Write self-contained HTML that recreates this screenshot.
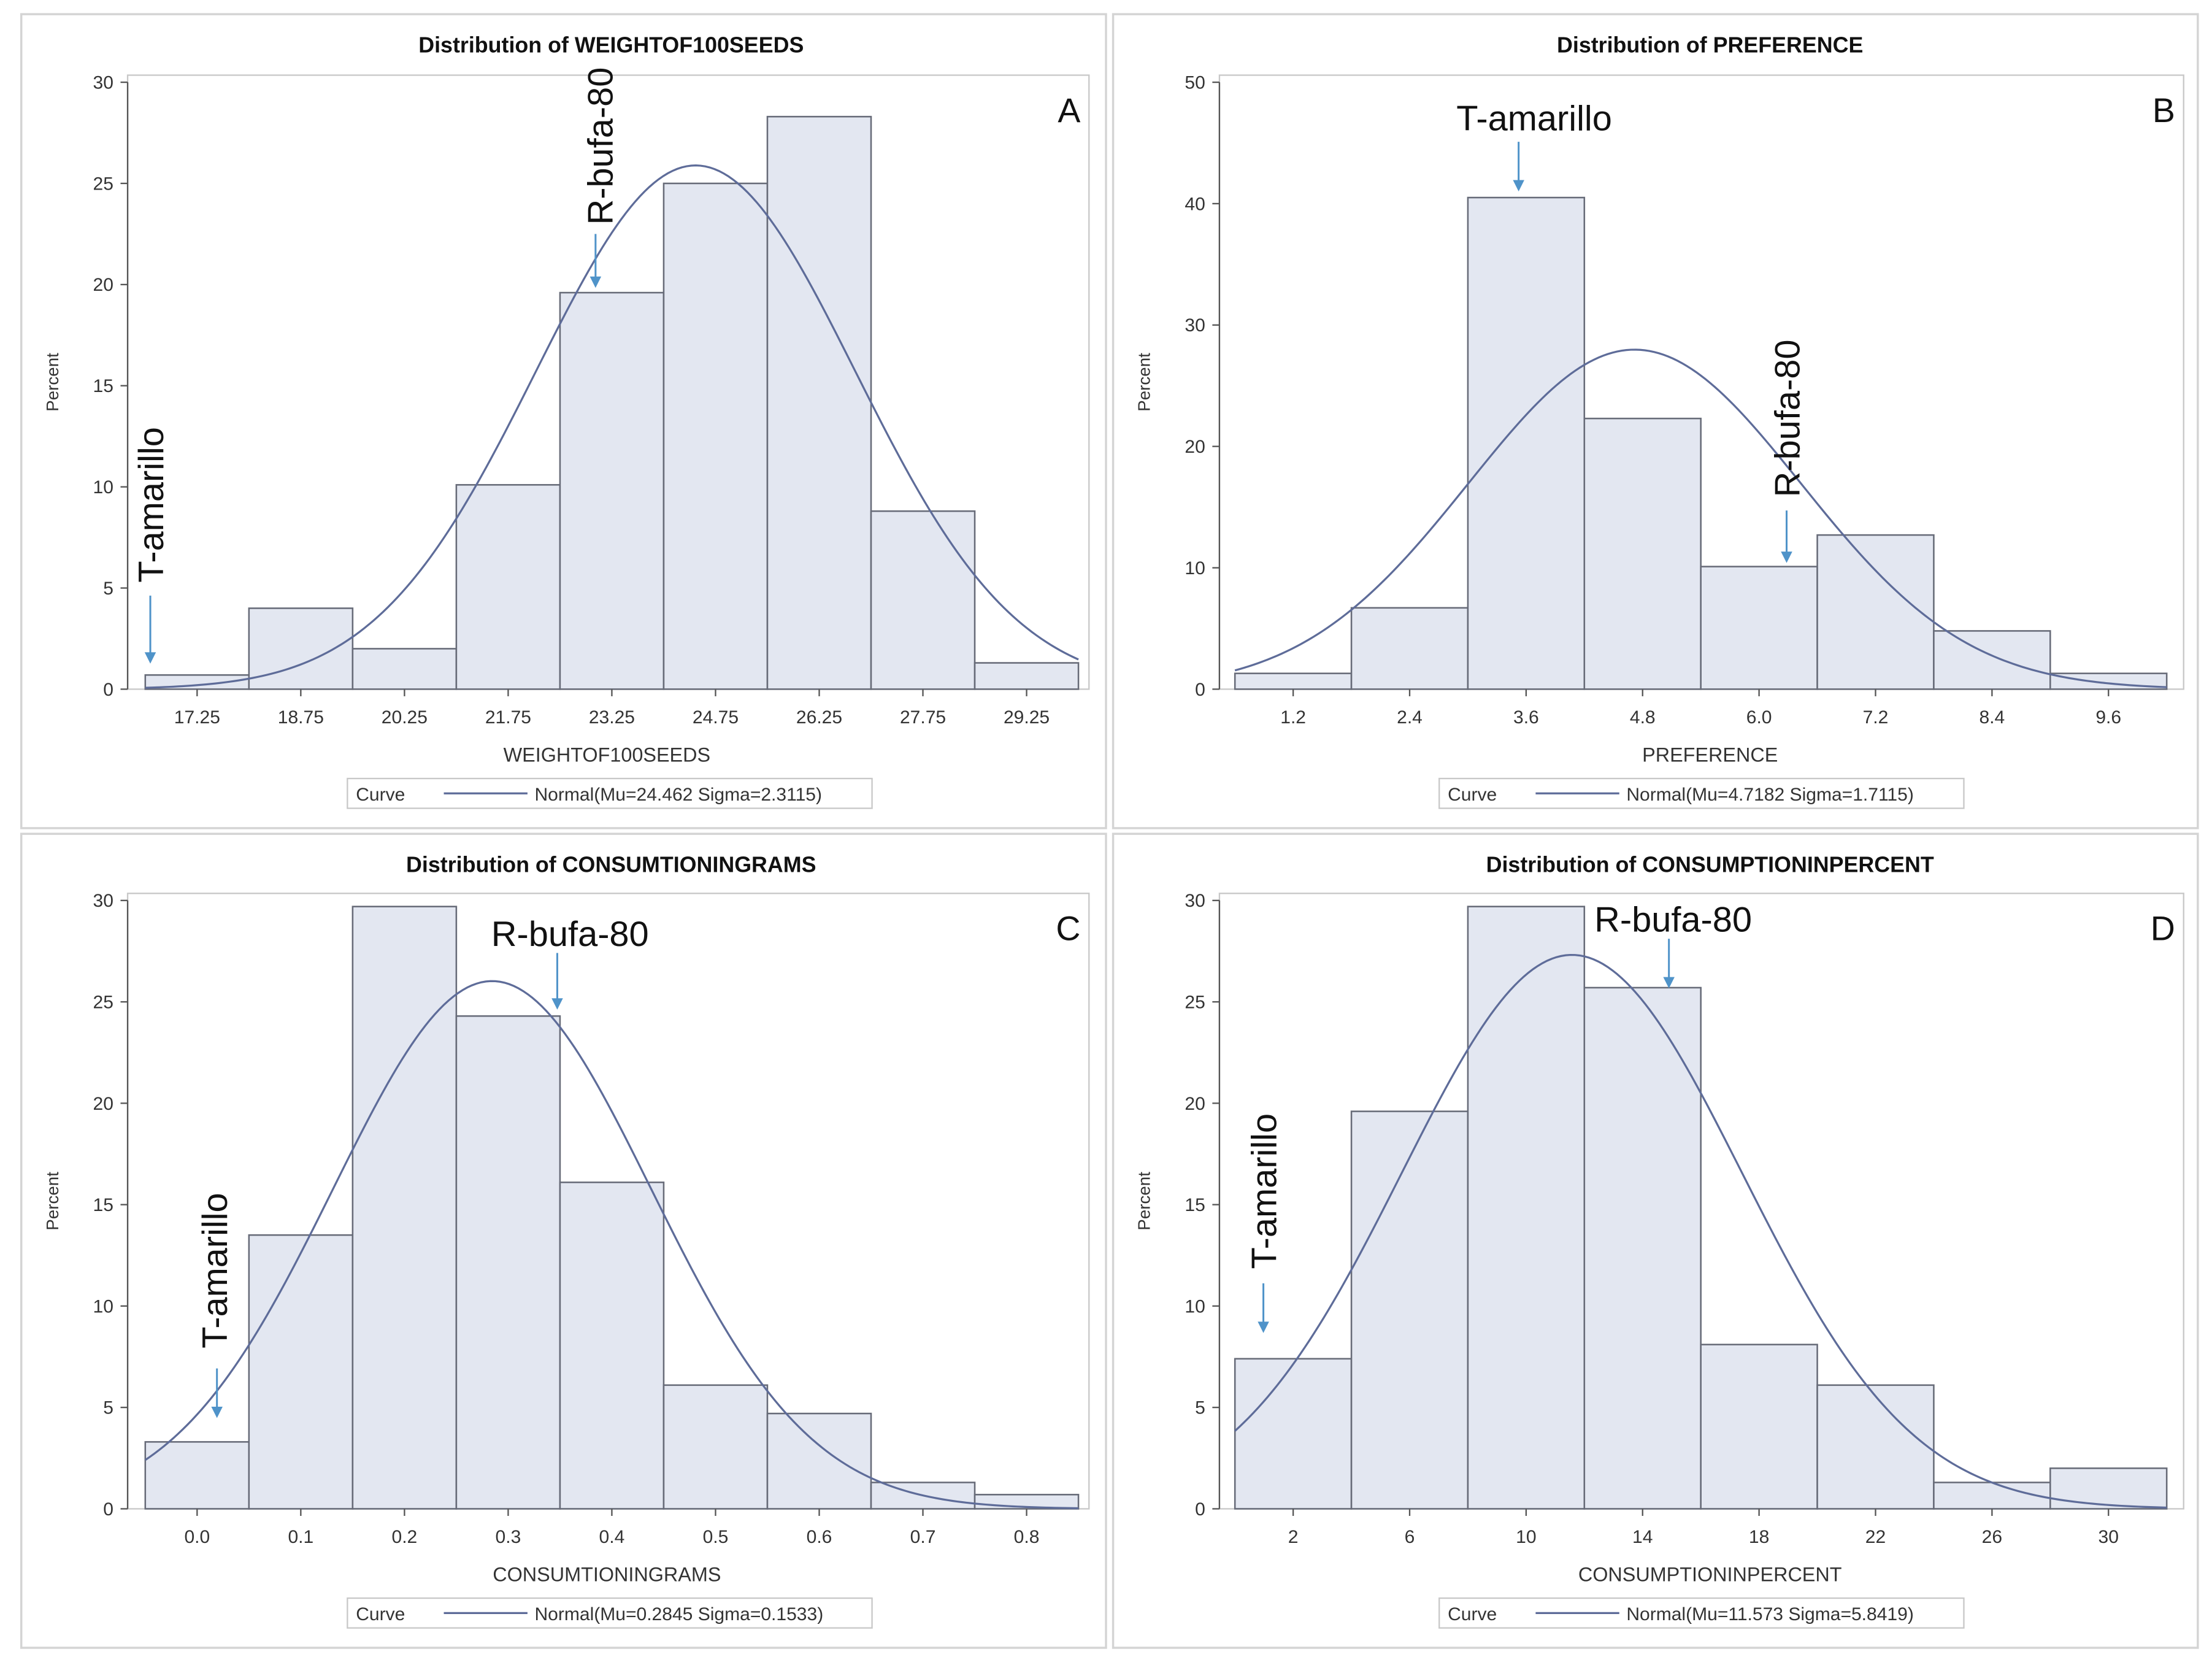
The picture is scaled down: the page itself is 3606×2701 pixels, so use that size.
<!DOCTYPE html>
<html><head><meta charset="utf-8">
<style>
html,body{margin:0;padding:0;background:#fff;}
svg{display:block;}
text{font-family:"Liberation Sans",sans-serif;}
</style></head>
<body>
<svg id="fig" width="3606" height="2701" viewBox="0 0 1560 1168.5" xmlns="http://www.w3.org/2000/svg"></svg>
<script>
// Panel A data
const catsA = [17.25,18.75,20.25,21.75,23.25,24.75,26.25,27.75,29.25];
const valsA = [0.7,4.0,2.0,10.1,19.6,25.0,28.3,8.8,1.3];
const ticksYA = [0,5,10,15,20,25,30];
// Panel B data
const catsB = [1.2,2.4,3.6,4.8,6.0,7.2,8.4,9.6];
const valsB = [1.3,6.7,40.5,22.3,10.1,12.7,4.8,1.3];
const ticksYB = [0,10,20,30,40,50];
// Panel C data
const catsC = [0.0,0.1,0.2,0.3,0.4,0.5,0.6,0.7,0.8];
const valsC = [3.3,13.5,29.7,24.3,16.1,6.1,4.7,1.3,0.7];
const ticksYC = [0,5,10,15,20,25,30];
// Panel D data
const catsD = [2,6,10,14,18,22,26,30];
const valsD = [7.4,19.6,29.7,25.7,8.1,6.1,1.3,2.0];
const ticksYD = [0,5,10,15,20,25,30];

const NS="http://www.w3.org/2000/svg";
const svg=document.getElementById('fig');
function mk(tag,attrs,parent,txt){const e=document.createElementNS(NS,tag);for(const k in attrs)e.setAttribute(k,attrs[k]);if(txt!==undefined)e.textContent=txt;(parent||svg).appendChild(e);return e;}

const panels=[
 {id:'a',cats:catsA,vals:valsA,ticksY:ticksYA,dec:2,title:'Distribution of WEIGHTOF100SEEDS',xlab:'WEIGHTOF100SEEDS',mu:24.462,sd:2.3115,leg:'Normal(Mu=24.462 Sigma=2.3115)',letter:'A',
  ox:15,oy:10,px0:90,px1:768,py0:53,py1:486,yTop:58,yMax:30,tx0:139,tx1:724,
  notes:[{t:'T-amarillo',rot:true,x:115,y:356,ax:106,a0:420,a1:468},{t:'R-bufa-80',rot:true,x:432,y:103,ax:420,a0:165,a1:203}]},
 {id:'b',cats:catsB,vals:valsB,ticksY:ticksYB,dec:1,title:'Distribution of PREFERENCE',xlab:'PREFERENCE',mu:4.7182,sd:1.7115,leg:'Normal(Mu=4.7182 Sigma=1.7115)',letter:'B',
  ox:785,oy:10,px0:860,px1:1540,py0:53,py1:486,yTop:58,yMax:50,tx0:912,tx1:1487,
  notes:[{t:'T-amarillo',rot:false,x:1082,y:92,ax:1071,a0:100,a1:135},{t:'R-bufa-80',rot:true,x:1269,y:295,ax:1260,a0:360,a1:397}]},
 {id:'c',cats:catsC,vals:valsC,ticksY:ticksYC,dec:1,title:'Distribution of CONSUMTIONINGRAMS',xlab:'CONSUMTIONINGRAMS',mu:0.2845,sd:0.1533,leg:'Normal(Mu=0.2845 Sigma=0.1533)',letter:'C',
  ox:15,oy:588,px0:90,px1:768,py0:630,py1:1064,yTop:635,yMax:30,tx0:139,tx1:724,
  notes:[{t:'R-bufa-80',rot:false,x:402,y:667,ax:393,a0:672,a1:712},{t:'T-amarillo',rot:true,x:160,y:896,ax:153,a0:965,a1:1000}]},
 {id:'d',cats:catsD,vals:valsD,ticksY:ticksYD,dec:0,title:'Distribution of CONSUMPTIONINPERCENT',xlab:'CONSUMPTIONINPERCENT',mu:11.573,sd:5.8419,leg:'Normal(Mu=11.573 Sigma=5.8419)',letter:'D',
  ox:785,oy:588,px0:860,px1:1540,py0:630,py1:1064,yTop:635,yMax:30,tx0:912,tx1:1487,
  notes:[{t:'R-bufa-80',rot:false,x:1180,y:657,ax:1177,a0:662,a1:697},{t:'T-amarillo',rot:true,x:900,y:840,ax:891,a0:905,a1:940}]}
];

panels.forEach(p=>{
 const g=mk('g',{});
 
 
 const n=p.cats.length;
 const w=(p.cats[n-1]-p.cats[0])/(n-1);
 const sx=v=>p.tx0+(v-p.cats[0])*(p.tx1-p.tx0)/(p.cats[n-1]-p.cats[0]);
 const sy=v=>p.py1-v*(p.py1-p.yTop)/p.yMax;
 const frame=mk('rect',{x:p.ox,y:p.oy,width:765,height:574,fill:'none',stroke:'#d4d4d4','stroke-width':1.5},g);
 
 
 const t=mk('text',{x:(p.px0+p.px1)/2-(p.id=='a'||p.id=='c'?-2:-6),y:p.oy+27,'text-anchor':'middle','font-size':15.5,'font-weight':'bold',fill:'#111'},g,p.title);
 
 
 const pa=mk('rect',{x:p.px0,y:p.py0,width:p.px1-p.px0,height:p.py1-p.py0,fill:'#fff',stroke:'#c8c8c8','stroke-width':1},g);
 
 
 // bars
 p.vals.forEach((v,i)=>{
  const x0=sx(p.cats[i]-w/2),x1=sx(p.cats[i]+w/2);
  const r=mk('rect',{x:x0,y:sy(v),width:x1-x0,height:p.py1-sy(v),fill:'#e3e7f1',stroke:'#676b78','stroke-width':1.1},g);
  
  
 });
 // curve
 const lo=p.cats[0]-w/2,hi=p.cats[n-1]+w/2;let d='';
 for(let k=0;k<=200;k++){const x=lo+(hi-lo)*k/200;const y=100*w*Math.exp(-0.5*((x-p.mu)/p.sd)**2)/(p.sd*Math.sqrt(2*Math.PI));d+=(k?'L':'M')+sx(x).toFixed(2)+','+sy(y).toFixed(2);}
 const c=mk('path',{d:d,fill:'none',stroke:'#5e6c99','stroke-width':1.4},g);
 
 
 // y axis
 p.ticksY.forEach(v=>{
  mk('line',{x1:p.px0-5,x2:p.px0,y1:sy(v),y2:sy(v),stroke:'#555'},g);
  const tl=mk('text',{x:p.px0-10,y:sy(v)+4.5,'text-anchor':'end','font-size':13,fill:'#333'},g,String(v));
  
  
 });
 mk('line',{x1:p.px0,x2:p.px0,y1:p.yTop,y2:p.py1,stroke:'#555'},g);
 // x axis
 p.cats.forEach(v=>{
  mk('line',{x1:sx(v),x2:sx(v),y1:p.py1,y2:p.py1+5,stroke:'#555'},g);
  const tl=mk('text',{x:sx(v),y:p.py1+24,'text-anchor':'middle','font-size':13,fill:'#333'},g,v.toFixed(p.dec));
  
  
 });
 const xl=mk('text',{x:(p.px0+p.px1)/2-(p.id=='a'||p.id=='c'?1:-6),y:p.py1+51,'text-anchor':'middle','font-size':14,fill:'#333'},g,p.xlab);
 
 
 const yl=mk('text',{x:0,y:0,'text-anchor':'middle','font-size':12,fill:'#333',transform:`translate(${p.ox+26},${(p.py0+p.py1)/2}) rotate(-90)`},g,'Percent');
 
 
 // legend
 const lx=p.ox+230,ly=p.py1+63;
 const lg=mk('g',{},g);
 
 
 mk('rect',{x:lx,y:ly,width:370,height:21,fill:'#fff',stroke:'#c8c8c8'},lg);
 mk('text',{x:lx+6,y:ly+15.5,'font-size':13,fill:'#333'},lg,'Curve');
 mk('line',{x1:lx+68,x2:lx+127,y1:ly+10.5,y2:ly+10.5,stroke:'#5e6c99','stroke-width':1.4},lg);
 mk('text',{x:lx+132,y:ly+15.5,'font-size':13,fill:'#333'},lg,p.leg);
 const le=mk('text',{x:p.px1-6,y:p.py0+33,'text-anchor':'end','font-size':24,fill:'#111'},g,p.letter);
 
 
 // annotations
 p.notes.forEach(a=>{
  const at=mk('text',{x:0,y:0,'text-anchor':'middle','font-size':25,fill:'#111',transform:a.rot?`translate(${a.x},${a.y}) rotate(-90)`:`translate(${a.x},${a.y})`},g,a.t);
  
  
  mk('line',{x1:a.ax,x2:a.ax,y1:a.a0,y2:a.a1-5,stroke:'#4f93c9','stroke-width':1.3},g);
  mk('path',{d:`M${a.ax-4},${a.a1-8}L${a.ax+4},${a.a1-8}L${a.ax},${a.a1}Z`,fill:'#4f93c9'},g);
 });
});
</script>
</body></html>
